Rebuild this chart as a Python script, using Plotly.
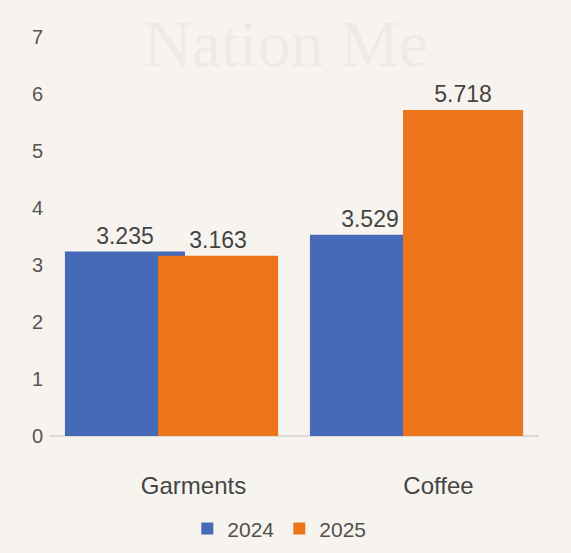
import plotly.graph_objects as go

# Export values by product (2024 vs 2025)
categories = ["Garments", "Coffee"]
years = ["2024", "2025"]
values_2024 = [3.235, 3.529]
values_2025 = [3.163, 5.718]
y_ticks = [0, 1, 2, 3, 4, 5, 6, 7]

BG = "#f7f4ef"
BLUE = "#4669b8"
ORANGE = "#ec741b"
FONT = "Liberation Sans"

fig = go.Figure()

series = [(years[0], values_2024, BLUE, -0.435), (years[1], values_2025, ORANGE, -0.055)]
for name, vals, color, off in series:
    fig.add_trace(go.Bar(
        name=name,
        x=categories,
        y=vals,
        width=0.49,
        offset=off,
        marker=dict(color=color, line=dict(width=0)),
        text=[f"{v:.3f}" for v in vals],
        textposition="outside",
        textfont=dict(family=FONT, size=23, color="#444444"),
        cliponaxis=False,
    ))

# faint masthead text behind the plot
fig.add_annotation(
    text="Nation Me",
    xref="paper", yref="paper",
    x=0.19, y=1.08, xanchor="left", yanchor="top",
    showarrow=False,
    font=dict(family="Liberation Serif", size=66, color="#eeebe6"),
)

fig.update_layout(
    width=571, height=553,
    paper_bgcolor=BG, plot_bgcolor=BG,
    barmode="overlay",
    margin=dict(l=49, r=32, t=37, b=117, autoexpand=False),
    font=dict(family=FONT, color="#505050"),
    showlegend=True,
    legend=dict(
        orientation="h",
        x=0.47, xanchor="center",
        y=-0.233, yanchor="middle",
        font=dict(family=FONT, size=21, color="#505050"),
        bgcolor="rgba(0,0,0,0)",
        itemwidth=30,
        traceorder="normal",
    ),
    xaxis=dict(
        type="category",
        range=[-0.5, 1.5],
        showgrid=False,
        showline=False,
        ticks="",
        ticklabelstandoff=33,
        ticklabelshift=22,
        tickfont=dict(family=FONT, size=24, color="#454545"),
    ),
    yaxis=dict(
        range=[0, 7],
        tickvals=y_ticks,
        showgrid=False,
        zeroline=True,
        zerolinecolor="#dcd8d2",
        zerolinewidth=1.5,
        showline=False,
        ticks="",
        ticklabelstandoff=5,
        tickfont=dict(family=FONT, size=20, color="#555555"),
    ),
)

fig.write_html("out.html")
